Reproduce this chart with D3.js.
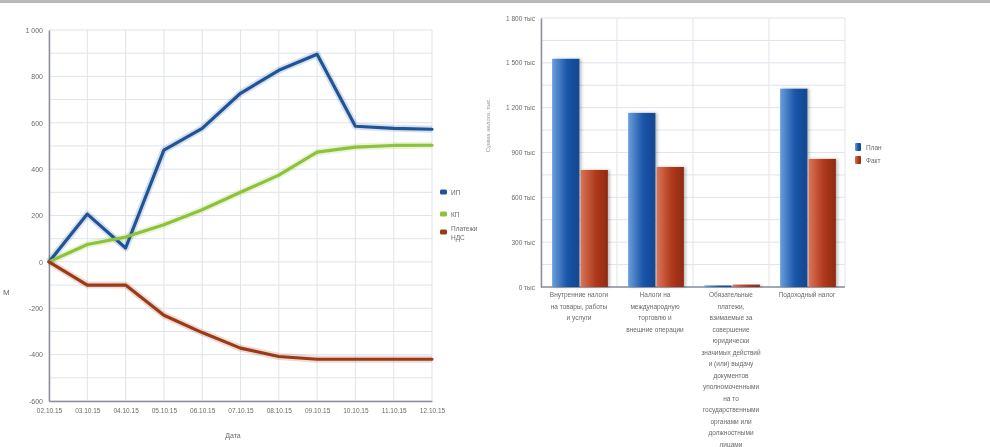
<!DOCTYPE html>
<html>
<head>
<meta charset="utf-8">
<script src="https://cdn.jsdelivr.net/npm/d3@7"></script>
<style>
  body { margin:0; background:#fff; }
  svg { font-family: "Liberation Sans", Arial, sans-serif; filter: blur(0.35px); }
</style>
</head>
<body>
<script>
// ---------------- data ----------------
var dates = ["02.10.15","03.10.15","04.10.15","05.10.15","06.10.15","07.10.15",
             "08.10.15","09.10.15","10.10.15","11.10.15","12.10.15"];
var seriesNames = ["ИП","КП","Платежи НДС"];
var ipValues  = [0, 206, 60, 482, 576, 727, 826, 895, 585, 576, 572];
var kpValues  = [0, 75, 107, 160, 225, 300, 374, 473, 495, 502, 503];
var ndsValues = [0, -100, -100, -230, -305, -372, -408, -420, -420, -420, -420];
var lineTicks = [-600, -400, -200, 0, 200, 400, 600, 800, 1000];

var taxCats = [
  ["Внутренние налоги", "на товары, работы", "и услуги"],
  ["Налоги на", "международную", "торговлю и", "внешние операции"],
  ["Обязательные", "платежи,", "взимаемые за", "совершение", "юридически",
   "значимых действий", "и (или) выдачу", "документов", "уполномоченными",
   "на то", "государственными", "органами или", "должностными", "лицами"],
  ["Подоходный налог"]
];
var barSeries = ["План","Факт"];
var planValues = [1527, 1165, 10, 1327];
var factValues = [783, 803, 16, 857];
var barTicks = [0, 300, 600, 900, 1200, 1500, 1800];

var W = 990, H = 447;
var svg = d3.select("body").append("svg").attr("width", W).attr("height", H);
var defs = svg.append("defs");

// top border line
svg.append("rect").attr("x",0).attr("y",0).attr("width",W).attr("height",3).attr("fill","#b8b8b8");

var gridCol = "#dfe3ec", axisCol = "#8a8f99", textCol = "#6a6a6a";

/////////////////////////////////////////////////////////////////////
// LINE CHART
/////////////////////////////////////////////////////////////////////
var lx = d3.scalePoint().domain(dates).range([49, 432]);
var ly = d3.scaleLinear().domain([-600, 1000]).range([401, 30]);

var lg = svg.append("g");
// horizontal grid every 100
d3.range(-600, 1001, 100).forEach(function(v){
  lg.append("line").attr("x1",49).attr("x2",432).attr("y1",ly(v)).attr("y2",ly(v))
    .attr("stroke",gridCol).attr("stroke-width",1);
});
dates.forEach(function(d){
  lg.append("line").attr("x1",lx(d)).attr("x2",lx(d)).attr("y1",30).attr("y2",401)
    .attr("stroke",gridCol).attr("stroke-width",1);
});

var yAxisL = lg.append("g").attr("transform","translate(49,0)")
  .call(d3.axisLeft(ly).tickValues(lineTicks).tickSize(0).tickPadding(6)
        .tickFormat(function(v){ return v===1000 ? "1 000" : v; }));
yAxisL.select(".domain").attr("stroke",axisCol).attr("stroke-width",1.5);
yAxisL.selectAll("text").attr("font-size",7).attr("fill",textCol);

var xAxisL = lg.append("g").attr("transform","translate(0,401)")
  .call(d3.axisBottom(lx).tickSize(0).tickPadding(7));
xAxisL.select(".domain").attr("stroke",axisCol).attr("stroke-width",1.5);
xAxisL.selectAll("text").attr("font-size",6.5).attr("fill",textCol);

lg.append("text").attr("x",233).attr("y",438).attr("text-anchor","middle")
  .attr("font-size",7).attr("fill",textCol).text("Дата");
lg.append("text").attr("x",3).attr("y",295).attr("font-size",8).attr("fill",textCol).text("М");

var lineColors = ["#1f5597", "#8dc23a", "#9b3a16"];
var lineData = [ipValues, kpValues, ndsValues];
var line = d3.line().x(function(d,i){ return lx(dates[i]); }).y(function(d){ return ly(d); });

lineData.forEach(function(vals, k){
  // soft halo under the line
  lg.append("path").datum(vals).attr("d",line).attr("fill","none")
    .attr("stroke",lineColors[k]).attr("stroke-opacity",0.18).attr("stroke-width",7)
    .attr("stroke-linejoin","round");
});
lineData.forEach(function(vals, k){
  lg.append("path").datum(vals).attr("d",line).attr("fill","none")
    .attr("stroke",lineColors[k]).attr("stroke-width",3.2)
    .attr("stroke-linejoin","round").attr("stroke-linecap","round");
});

// legend
var legY = [192, 214, 232];
seriesNames.forEach(function(n, k){
  lg.append("rect").attr("x",440).attr("y",legY[k]-2.5).attr("width",7).attr("height",5)
    .attr("rx",1.5).attr("fill",lineColors[k]);
  var t = lg.append("text").attr("x",451).attr("y",legY[k]+2.5)
    .attr("font-size",6.5).attr("fill",textCol);
  if (n === "Платежи НДС") {
    t.attr("y",legY[k]-1);
    t.append("tspan").attr("x",451).text("Платежи");
    t.append("tspan").attr("x",451).attr("dy",9).text("НДС");
  } else t.text(n);
});

/////////////////////////////////////////////////////////////////////
// BAR CHART
/////////////////////////////////////////////////////////////////////
var bx0 = d3.scaleBand().domain(d3.range(taxCats.length)).range([541, 845]);
var bx1 = d3.scaleBand().domain(barSeries).range([10, 68]).padding(0.04);
var by = d3.scaleLinear().domain([0, 1800]).range([287, 18]);

var bg = svg.append("g");
d3.range(0, 1801, 150).forEach(function(v){
  bg.append("line").attr("x1",541).attr("x2",845).attr("y1",by(v)).attr("y2",by(v))
    .attr("stroke",gridCol).attr("stroke-width",1);
});
d3.range(taxCats.length + 1).forEach(function(i){
  var x = 541 + i * bx0.bandwidth();
  bg.append("line").attr("x1",x).attr("x2",x).attr("y1",18).attr("y2",287)
    .attr("stroke",gridCol).attr("stroke-width",1);
});

var yAxisB = bg.append("g").attr("transform","translate(541,0)")
  .call(d3.axisLeft(by).tickValues(barTicks).tickSize(0).tickPadding(6)
        .tickFormat(function(v){ return d3.format(",")(v).replace(",", " ") + " тыс"; }));
yAxisB.select(".domain").attr("stroke",axisCol).attr("stroke-width",1.5);
yAxisB.selectAll("text").attr("font-size",6.5).attr("fill",textCol);

bg.append("line").attr("x1",541).attr("x2",845).attr("y1",287).attr("y2",287)
  .attr("stroke",axisCol).attr("stroke-width",1.5);

bg.append("text").attr("transform","translate(490,125) rotate(-90)").attr("text-anchor","middle")
  .attr("font-size",6).attr("fill","#999").text("Сумма налога, тыс.");

// gradients for bars
var barCols = [["#6a9fdc","#1a55a8","#15478f"], ["#d9755a","#b03a1c","#8e2a12"]];
barSeries.forEach(function(s, k){
  var gr = defs.append("linearGradient").attr("id","bgrad"+k)
    .attr("x1","0%").attr("x2","100%").attr("y1","0%").attr("y2","0%");
  gr.append("stop").attr("offset","0%").attr("stop-color",barCols[k][0]);
  gr.append("stop").attr("offset","55%").attr("stop-color",barCols[k][1]);
  gr.append("stop").attr("offset","100%").attr("stop-color",barCols[k][2]);
});
var sh = defs.append("filter").attr("id","bshadow").attr("x","-20%").attr("y","-5%")
  .attr("width","150%").attr("height","110%");
sh.append("feDropShadow").attr("dx",2).attr("dy",0).attr("stdDeviation",1.5)
  .attr("flood-color","#000").attr("flood-opacity",0.25);

var barVals = [planValues, factValues];
taxCats.forEach(function(c, i){
  barSeries.forEach(function(s, k){
    var v = barVals[k][i];
    bg.append("rect").attr("x",bx0(i)+bx1(s)).attr("y",by(v))
      .attr("width",bx1.bandwidth()).attr("height",Math.max(1.5, by(0)-by(v)))
      .attr("fill","url(#bgrad"+k+")").attr("filter","url(#bshadow)");
  });
  var t = bg.append("text").attr("text-anchor","middle").attr("font-size",6.5).attr("fill",textCol)
    .attr("y",297);
  c.forEach(function(line, j){
    t.append("tspan").attr("x",bx0(i)+bx0.bandwidth()/2).attr("dy", j===0 ? 0 : 11.5).text(line);
  });
});

// legend
barSeries.forEach(function(s, k){
  bg.append("rect").attr("x",855).attr("y",143+k*13).attr("width",6).attr("height",8)
    .attr("rx",1).attr("fill","url(#bgrad"+k+")");
  bg.append("text").attr("x",866).attr("y",150+k*13).attr("font-size",6.5).attr("fill",textCol).text(s);
});
</script>
</body>
</html>
